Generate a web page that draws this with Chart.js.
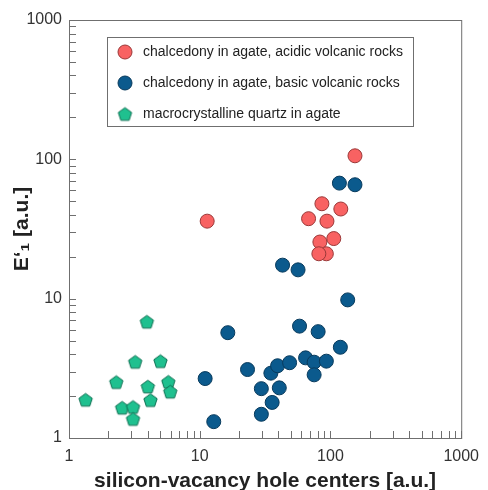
<!DOCTYPE html>
<html>
<head>
<meta charset="utf-8">
<script src="https://cdn.jsdelivr.net/npm/chart.js@4"></script>
<style>
  html, body { margin: 0; padding: 0; background: #fff; }
</style>
</head>
<body>
<canvas id="chart" width="488" height="490"></canvas>
<script>
// series names (legend order)
const seriesNames = [
    'chalcedony in agate, acidic volcanic rocks',
    'chalcedony in agate, basic volcanic rocks',
    'macrocrystalline quartz in agate'
];

// chalcedony, acidic volcanic rocks
const acidicX = [154, 86, 120, 68, 94, 106, 83, 93, 81.5, 11.4];
const acidicY = [106, 48, 44, 37.5, 36, 27, 25.5, 21, 21, 36];

// chalcedony, basic volcanic rocks
const basicX = [11, 12.8, 16.4, 23.2, 29.6, 29.6, 35, 39.4, 35.8, 40.6, 48.7, 58,
                64.5, 75, 75, 80.5, 93, 119, 135.5, 117, 154, 43, 56.5];
const basicY = [2.67, 1.31, 5.7, 3.1, 2.26, 1.48, 2.92, 3.3, 1.8, 2.29, 3.47, 6.35,
                3.76, 3.5, 2.84, 5.8, 3.56, 4.48, 9.8, 67.5, 65.7, 17.4, 16.1];

// macrocrystalline quartz
const quartzX = [1.34, 2.3, 3.21, 3.94, 5.01, 4.01, 5.75, 5.95, 4.2, 2.55, 3.09, 3.09];
const quartzY = [1.88, 2.52, 3.52, 6.83, 3.56, 2.34, 2.53, 2.15, 1.87, 1.65, 1.67, 1.37];

// tick positions and labelled ticks (both axes)
const tickValues = [1, 2, 3, 4, 5, 6, 7, 8, 9,
                    10, 20, 30, 40, 50, 60, 70, 80, 90,
                    100, 200, 300, 400, 500, 600, 700, 800, 900, 1000];
const tickLabels = [1, 10, 100, 1000];

const FONT = "'Liberation Sans', Arial, sans-serif";

function toPoints(xs, ys) {
    return xs.map((x, i) => ({ x: x, y: ys[i] }));
}

function pentagon(fill, stroke, r) {
    const c = document.createElement('canvas');
    const s = Math.ceil(r * 2 + 3);
    c.width = s;
    c.height = s;
    const g = c.getContext('2d');
    g.translate(s / 2, s / 2 + r * 0.1);
    g.beginPath();
    for (let i = 0; i < 5; i++) {
        const a = -Math.PI / 2 + i * 2 * Math.PI / 5;
        g.lineTo(r * Math.cos(a), r * Math.sin(a));
    }
    g.closePath();
    g.fillStyle = fill;
    g.fill();
    g.strokeStyle = stroke;
    g.lineWidth = 1;
    g.stroke();
    return c;
}

const pentaImg = pentagon('#1fc08f', '#0c6e50', 7);

// frame + inward ticks + boxed legend
const decor = {
    id: 'decor',
    beforeDatasetsDraw(chart) {
        const { ctx, chartArea: a, scales: { x, y } } = chart;
        ctx.save();
        ctx.strokeStyle = '#6f6f6f';
        ctx.lineWidth = 1;
        ctx.strokeRect(a.left + 0.5, a.top + 0.5, a.right - a.left, a.bottom - a.top);
        ctx.beginPath();
        x.ticks.forEach(t => {
            const px = Math.round(x.getPixelForValue(t.value)) + 0.5;
            ctx.moveTo(px, a.bottom);
            ctx.lineTo(px, a.bottom - 7);
        });
        y.ticks.forEach(t => {
            const py = Math.round(y.getPixelForValue(t.value)) + 0.5;
            ctx.moveTo(a.left, py);
            ctx.lineTo(a.left + 7, py);
        });
        ctx.stroke();
        ctx.restore();
    },
    afterDraw(chart) {
        const { ctx, chartArea: a } = chart;
        const bx = a.left + 38, by = a.top + 17, bw = 306, bh = 89;
        ctx.save();
        ctx.fillStyle = '#fff';
        ctx.fillRect(bx, by, bw, bh);
        ctx.strokeStyle = '#6f6f6f';
        ctx.lineWidth = 1;
        ctx.strokeRect(bx + 0.5, by + 0.5, bw, bh);
        ctx.font = '14px ' + FONT;
        ctx.textBaseline = 'middle';
        ctx.fillStyle = '#222';
        chart.data.datasets.forEach((ds, i) => {
            const cy = by + 15 + i * 31;
            const cx = bx + 18;
            if (ds.pointStyle === 'circle') {
                ctx.beginPath();
                ctx.arc(cx, cy, 7, 0, Math.PI * 2);
                ctx.fillStyle = ds.backgroundColor;
                ctx.fill();
                ctx.strokeStyle = ds.borderColor;
                ctx.stroke();
            } else {
                ctx.drawImage(ds.pointStyle, cx - ds.pointStyle.width / 2, cy - ds.pointStyle.height / 2);
            }
            ctx.fillStyle = '#222';
            ctx.fillText(ds.label, bx + 36, cy);
        });
        ctx.restore();
    }
};

function logAxis(pos, title) {
    return {
        type: 'logarithmic',
        position: pos,
        min: 1,
        max: 1000,
        afterBuildTicks: (axis) => {
            axis.ticks = tickValues.map(v => ({ value: v, major: tickLabels.includes(v) }));
        },
        grid: { display: false, drawTicks: false },
        border: { display: false },
        ticks: {
            autoSkip: false,
            maxRotation: 0,
            padding: pos === 'left' ? 7 : 9,
            color: '#333',
            font: { family: FONT, size: 16 },
            callback: (v) => tickLabels.includes(v) ? String(v) : ''
        },
        title: {
            display: true,
            text: title,
            color: '#222',
            font: { family: FONT, size: 21, weight: 'bold', lineHeight: pos === 'left' ? 1.2 : 0.8 },
            padding: pos === 'left' ? { top: 10, bottom: 0 } : { top: 0, bottom: 0 }
        },
        afterFit: (axis) => {
            if (pos === 'left') axis.width = 69;
            else axis.height = 52;
        }
    };
}

const ctx = document.getElementById('chart').getContext('2d');
const chart = new Chart(ctx, {
    type: 'scatter',
    data: {
        datasets: [{
            label: seriesNames[0],
            data: toPoints(acidicX, acidicY),
            pointStyle: 'circle',
            pointRadius: 7,
            borderWidth: 1,
            backgroundColor: '#f86262',
            borderColor: '#9a3838'
        }, {
            label: seriesNames[1],
            data: toPoints(basicX, basicY),
            pointStyle: 'circle',
            pointRadius: 7,
            borderWidth: 1,
            backgroundColor: '#0b5a8d',
            borderColor: '#083a5c'
        }, {
            label: seriesNames[2],
            data: toPoints(quartzX, quartzY),
            pointStyle: pentaImg,
            pointRadius: 7,
            borderWidth: 1,
            backgroundColor: '#1fc08f',
            borderColor: '#0c6e50'
        }]
    },
    options: {
        responsive: false,
        animation: false,
        events: [],
        layout: { padding: { left: 0, top: 20, right: 16, bottom: 0 } },
        scales: {
            x: logAxis('bottom', 'silicon-vacancy hole centers [a.u.]'),
            y: logAxis('left', 'E\u2018\u2081 [a.u.]')
        },
        plugins: {
            legend: { display: false },
            tooltip: { enabled: false }
        }
    },
    plugins: [decor]
});
</script>
</body>
</html>
